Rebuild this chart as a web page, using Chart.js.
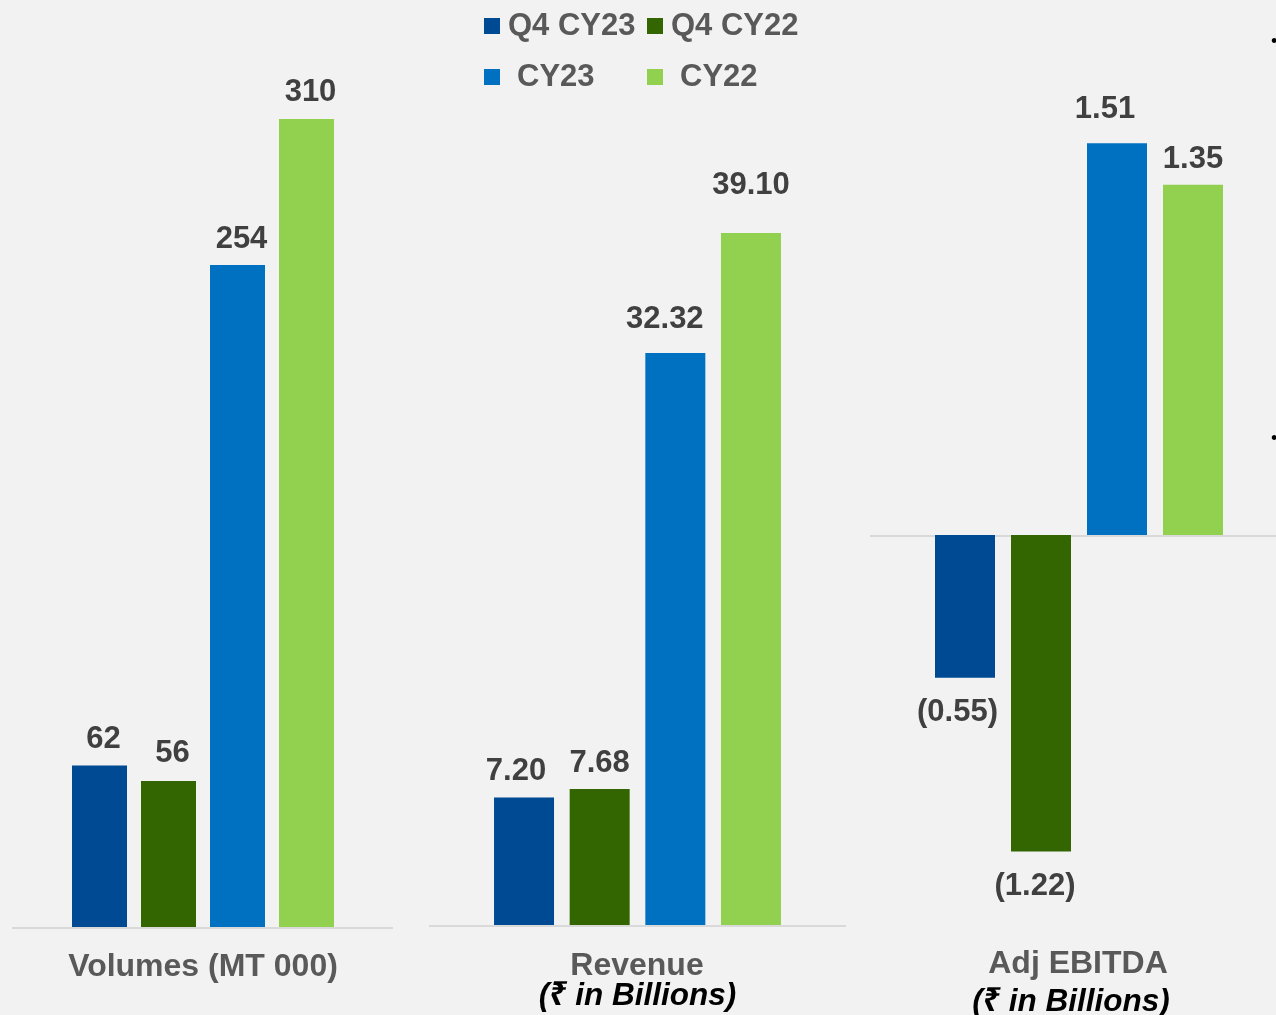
<!DOCTYPE html>
<html>
<head>
<meta charset="utf-8">
<script src="https://cdn.jsdelivr.net/npm/chart.js@4/dist/chart.umd.min.js"></script>
<style>
  html, body { margin: 0; padding: 0; background: #f2f2f2; }
  body { width: 1276px; height: 1015px; position: relative; overflow: hidden;
         font-family: "Liberation Sans", Arial, "Noto Sans", sans-serif; }
  canvas { position: absolute; top: 0; }
  .t { position: absolute; white-space: nowrap; line-height: 1; font-weight: bold; }
  .c { transform: translateX(-50%); }
  .sw { position: absolute; width: 16px; height: 16px; }
</style>
</head>
<body>
<canvas id="c1" width="381" height="1015" style="left:12px;width:381px;height:1015px"></canvas>
<canvas id="c2" width="417" height="1015" style="left:429px;width:417px;height:1015px"></canvas>
<canvas id="c3" width="406" height="1015" style="left:870px;width:406px;height:1015px"></canvas>

<!-- legend -->
<div class="sw" style="left:484px;top:18px;background:#004A93"></div>
<div class="t" style="left:508px;top:8.8px;font-size:31px;color:#595959">Q4 CY23</div>
<div class="sw" style="left:647px;top:18px;background:#336600"></div>
<div class="t" style="left:671px;top:8.8px;font-size:31px;color:#595959">Q4 CY22</div>
<div class="sw" style="left:484px;top:69px;background:#0070C0"></div>
<div class="t" style="left:517px;top:59.8px;font-size:31px;color:#595959">CY23</div>
<div class="sw" style="left:647px;top:69px;background:#92D050"></div>
<div class="t" style="left:680px;top:59.8px;font-size:31px;color:#595959">CY22</div>

<!-- titles -->
<div class="t c" style="left:203px;top:948.9px;font-size:32px;color:#595959">Volumes (MT 000)</div>
<div class="t c" style="left:637px;top:947.9px;font-size:32px;color:#595959">Revenue</div>
<div class="t c" style="left:637.5px;top:979.4px;font-size:31.5px;color:#000;font-style:italic">(₹ in Billions)</div>
<div class="t c" style="left:1071px;top:945.9px;font-size:32px;color:#595959;margin-left:7px">Adj EBITDA</div>
<div class="t c" style="left:1071px;top:985.4px;font-size:31.5px;color:#000;font-style:italic">(₹ in Billions)</div>

<!-- cut-off bullets at right edge -->
<div class="t" style="left:1271px;top:32px;font-size:18px;color:#000;font-weight:normal">•</div>
<div class="t" style="left:1271px;top:429px;font-size:18px;color:#000;font-weight:normal">•</div>

<script>
// ---- data ----
const categories = ["Q4 CY23", "Q4 CY22", "CY23", "CY22"];
const volumes = [62, 56, 254, 310];
const revenue = [7.20, 7.68, 32.32, 39.10];
const adjEbitda = [-0.55, -1.22, 1.51, 1.35];
const barColors = ["#004A93", "#336600", "#0070C0", "#92D050"];

// per-chart label styling (kept outside Chart.js options)
const labelStyles = {};

// ---- label plugin ----
const labelPlugin = {
  id: 'barLabelsCustom',
  beforeDatasetsDraw(chart) {
    const ctx = chart.ctx;
    const y0 = chart.scales.y.getPixelForValue(0);
    ctx.save();
    ctx.strokeStyle = '#d9d9d9';
    ctx.lineWidth = 2;
    ctx.beginPath();
    ctx.moveTo(0, y0 + 1);
    ctx.lineTo(chart.width, y0 + 1);
    ctx.stroke();
    ctx.restore();
  },
  afterDatasetsDraw(chart) {
    const o = labelStyles[chart.canvas.id];
    if (!o) return;
    const ctx = chart.ctx;
    const meta = chart.getDatasetMeta(0);
    const vals = chart.data.datasets[0].data;
    ctx.save();
    ctx.font = 'bold 31px "Liberation Sans", Arial, sans-serif';
    ctx.fillStyle = '#404040';
    ctx.textAlign = 'center';
    ctx.textBaseline = 'alphabetic';
    meta.data.forEach((bar, i) => {
      const v = vals[i];
      const txt = o.format(v);
      const x = bar.x + o.dx[i];
      const y = v >= 0 ? bar.y - o.gap[i] : bar.y + o.gap[i] + 22.2;
      ctx.fillText(txt, x, y);
    });
    ctx.restore();
  }
};

function makeChart(id, values, yMin, yMax, pad, barPct, labelOpts) {
  labelStyles[id] = labelOpts;
  return new Chart(document.getElementById(id), {
    type: 'bar',
    data: {
      labels: categories,
      datasets: [{
        data: values,
        backgroundColor: barColors,
        borderWidth: 0,
        categoryPercentage: 1,
        barPercentage: barPct
      }]
    },
    options: {
      responsive: false,
      animation: false,
      devicePixelRatio: 1,
      layout: { padding: pad },
      scales: {
        x: { display: false },
        y: { display: false, min: yMin, max: yMax }
      },
      plugins: {
        legend: { display: false },
        tooltip: { enabled: false }
      }
    },
    plugins: [labelPlugin]
  });
}

makeChart('c1', volumes, 0, 355.65,
  { left: 53, right: 52, top: 0, bottom: 88 }, 55 / 69,
  { format: v => String(v), dx: [4, 4, 4, 4], gap: [17, 19, 17, 18] });

makeChart('c2', revenue, 0, 52.27,
  { left: 57.2, right: 57.2, top: 0, bottom: 90 }, 60 / 75.65,
  { format: v => v.toFixed(2), dx: [-8, 0, -10.5, 0], gap: [18, 17, 25, 39] });

makeChart('c3', adjEbitda, -1.8497, 2.0617,
  { left: 57, right: 45, top: 0, bottom: 0 }, 60 / 76,
  { format: v => v < 0 ? '(' + Math.abs(v).toFixed(2) + ')' : v.toFixed(2),
    dx: [-7.5, -6, -12, 0], gap: [21, 21, 25, 17] });
</script>
</body>
</html>
